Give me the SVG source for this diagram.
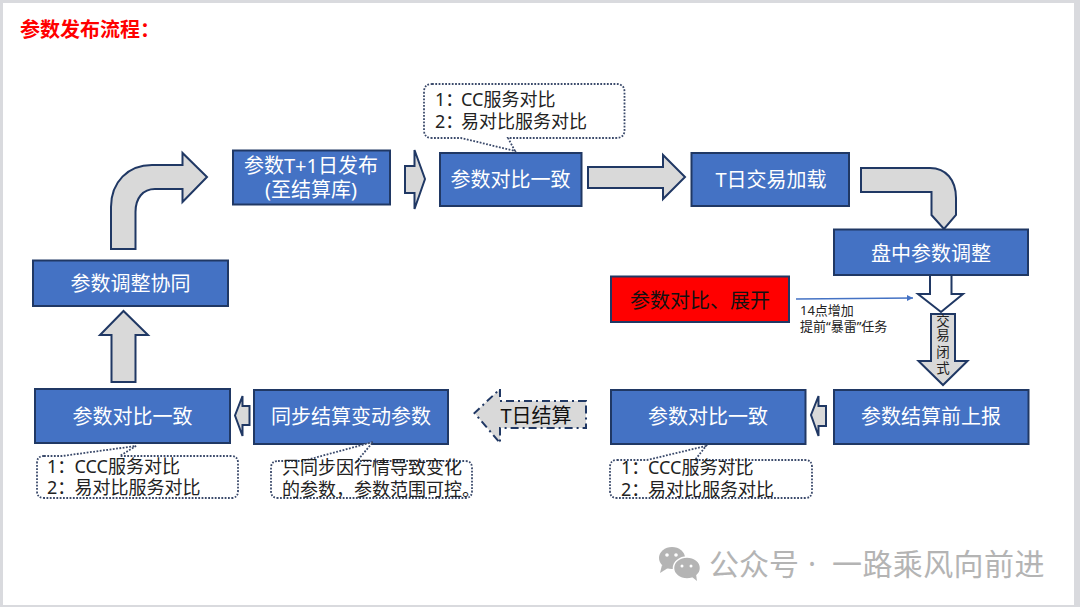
<svg xmlns="http://www.w3.org/2000/svg" width="1080" height="607" viewBox="0 0 1080 607">
<style>
text{font-family:"Noto Sans","Noto Sans CJK SC",sans-serif;}
.box{fill:#4472c4;stroke:#203864;stroke-width:2;}
.red{fill:#ff0000;stroke:#203864;stroke-width:2;}
.arrow{fill:#d9d9d9;stroke:#203864;stroke-width:2;stroke-linejoin:miter;}
.white{fill:#fff;}
.dash{stroke-dasharray:8 4 2 4;}
.call{fill:#fff;stroke:#3b4a6b;stroke-width:1.8;stroke-dasharray:1.8 1.5;}
.bt{fill:#fff;font-size:20px;text-anchor:middle;}
.dk{fill:#111;font-size:20px;text-anchor:middle;}
.ct{fill:#222;font-size:18px;}
.sm{fill:#222;font-size:13px;}
.wm{fill:#b4b4b4;font-size:30px;}
</style>
<defs>
<marker id="tip" markerWidth="7" markerHeight="7" refX="6" refY="3" orient="auto" markerUnits="userSpaceOnUse"><path d="M0 0L6 3L0 6Z" fill="#4472c4"/></marker>
</defs>
<rect width="1080" height="607" fill="#d9dade"/>
<rect x="3" y="3" width="1071" height="602" fill="#fff"/>
<text x="20" y="37" font-size="20" font-weight="700" fill="#ff0000">参数发布流程：</text>

<g id="connectors">
<path class="arrow" d="M111 249V207C111 182 128 165 152 165H182.500V153L207 177L182.500 202V189H155C143 189 135.500 198 135.500 212V249Z"/>
<path class="arrow" d="M405 166H414.500V150L425 179L414.500 209V193H405Z"/>
<path class="arrow" d="M588 167H663V155L685 177L663 199V188H588Z"/>
<path class="arrow" d="M861 168H930C946 168 956 180 956 198V215L944 229L931.500 215V192H861Z"/>
<path class="arrow white" d="M930 275H951.500V294H963L941 312L918 294H930Z"/>
<path class="arrow" d="M931 314H955V361H967.500L943 385L918.500 361H931Z"/>
<path class="arrow" d="M826 406H818.500V396L811 415L818.500 436V426H826Z"/>
<path class="arrow" d="M249.500 406H242.500V396L235 415.500L242.500 436V425H249.500Z"/>
<path class="arrow dash" d="M586 401H500V389L474.500 413L500 443V428H586Z"/>
<path class="arrow" d="M111.500 382H135.500V335H148L123.500 311L100 335H111.500Z"/>
<line x1="796" y1="299" x2="913" y2="298" stroke="#4472c4" stroke-width="1.500" marker-end="url(#tip)"/>
</g>
<text class="dk" x="536" y="423">T日结算</text>
<text style="font-size:13.500px;text-anchor:middle;fill:#222"><tspan x="943" y="326">交</tspan><tspan x="943" y="340">易</tspan><tspan x="943" y="356.500">闭</tspan><tspan x="943" y="373">式</tspan></text>

<g id="node-t1"><rect class="box" x="233" y="150.500" width="157" height="54"/><text class="bt" x="311" y="173">参数T+1日发布</text><text class="bt" x="311" y="197">(至结算库)</text></g>
<g id="node-compare-top"><rect class="box" x="440" y="153" width="141.500" height="53"/><text class="bt" x="510.500" y="187">参数对比一致</text></g>
<g id="node-t-load"><rect class="box" x="691.500" y="153" width="157.500" height="53"/><text class="bt" x="771" y="187">T日交易加载</text></g>
<g id="node-intraday"><rect class="box" x="834" y="229.500" width="194" height="45.500"/><text class="bt" x="931" y="261">盘中参数调整</text></g>
<g id="node-red"><rect class="red" x="611" y="276.500" width="178" height="45.500"/><text class="dk" x="700" y="308">参数对比、展开</text></g>
<g id="node-coord"><rect class="box" x="33" y="260.500" width="195" height="45.500"/><text class="bt" x="130.500" y="291">参数调整协同</text></g>
<g id="node-compare-left"><rect class="box" x="35" y="389" width="195" height="54"/><text class="bt" x="132.500" y="424">参数对比一致</text></g>
<g id="node-sync"><rect class="box" x="254" y="390" width="194" height="54"/><text class="bt" x="351" y="424">同步结算变动参数</text></g>
<g id="node-compare-right"><rect class="box" x="611" y="390" width="194.500" height="54"/><text class="bt" x="708" y="424">参数对比一致</text></g>
<g id="node-report"><rect class="box" x="834" y="390" width="194.500" height="54"/><text class="bt" x="931" y="424">参数结算前上报</text></g>

<g id="note-top"><path class="call" d="M432 84H616Q624.500 84 624.500 92V130Q624.500 138 616 138H508L515 151L461 138H432Q424 138 424 130V92Q424 84 432 84Z"/><text class="ct" y="106"><tspan x="435">1：</tspan><tspan x="461">CC服务对比</tspan></text><text class="ct" y="128"><tspan x="435">2：</tspan><tspan x="461">易对比服务对比</tspan></text></g>
<g id="note-left"><path class="call" d="M44 456H62L136 446L120 456H231Q238 456 238 463V491Q238 498 231 498H44Q37 498 37 491V463Q37 456 44 456Z"/><text class="ct" y="473"><tspan x="47">1：</tspan><tspan x="74.500">CCC服务对比</tspan></text><text class="ct" y="494"><tspan x="47">2：</tspan><tspan x="74.500">易对比服务对比</tspan></text></g>
<g id="note-mid"><path class="call" d="M278 461H303L373 442L357 461H465Q472 461 472 468V491Q472 498 465 498H278Q271 498 271 491V468Q271 461 278 461Z"/><text class="ct" x="282" y="474">只同步因行情导致变化</text><text class="ct" x="282" y="496">的参数，参数范围可控。</text></g>
<g id="note-right"><path class="call" d="M617 460H647L706 446L695 460H805Q812 460 812 467V491Q812 498 805 498H617Q610 498 610 491V467Q610 460 617 460Z"/><text class="ct" y="474"><tspan x="621">1：</tspan><tspan x="648">CCC服务对比</tspan></text><text class="ct" y="496"><tspan x="621">2：</tspan><tspan x="648">易对比服务对比</tspan></text></g>

<text class="sm" x="800" y="315">14点增加</text>
<text class="sm" x="800" y="331">提前“暴雷”任务</text>

<g id="watermark">
<ellipse cx="672" cy="558" rx="13" ry="11" fill="#b4b4b4"/>
<path d="M662 565L660 573L668 568Z" fill="#b4b4b4"/>
<ellipse cx="687" cy="568" rx="13.500" ry="11" fill="#b4b4b4" stroke="#fff" stroke-width="1.500"/>
<path d="M692 577L697 581L696 574Z" fill="#b4b4b4"/>
<circle cx="667" cy="555" r="1.800" fill="#fff"/><circle cx="676" cy="555" r="1.800" fill="#fff"/>
<circle cx="682" cy="566" r="1.500" fill="#fff"/><circle cx="691" cy="566" r="1.500" fill="#fff"/>
<text class="wm" y="575"><tspan x="709">公众号</tspan><tspan x="808">·</tspan><tspan x="832" letter-spacing="0.4">一路乘风向前进</tspan></text>
</g>
</svg>
